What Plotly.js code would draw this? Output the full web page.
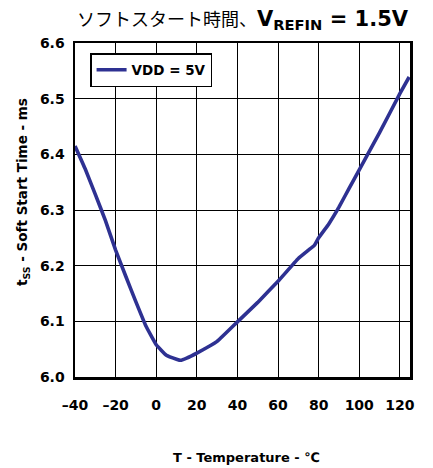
<!DOCTYPE html>
<html>
<head>
<meta charset="utf-8">
<script src="https://cdn.plot.ly/plotly-3.0.1.min.js"></script>
<style>
  html, body { margin: 0; padding: 0; background: #fff; }
  #chart { width: 433px; height: 468px; }
</style>
</head>
<body>
<div id="chart"></div>
<script>
// Soft-start time vs. temperature, VDD = 5 V
const temperature = [-40, -35, -30, -25, -20, -15, -10, -5, 0, 5, 10, 12, 15, 20, 30, 40, 50, 60, 70, 75, 78, 80, 85, 90, 95, 100, 110, 120, 124.6];
const softStartMs = [6.415, 6.374, 6.328, 6.281, 6.228, 6.181, 6.135, 6.091, 6.058, 6.039, 6.032, 6.030, 6.034, 6.043, 6.064, 6.099, 6.134, 6.172, 6.213, 6.228, 6.237, 6.250, 6.275, 6.305, 6.339, 6.372, 6.439, 6.509, 6.539];

const xTickVals = [-40, -20, 0, 20, 40, 60, 80, 100, 120];
const xTickText = ['–40', '–20', '0', '20', '40', '60', '80', '100', '120'];
const yTickVals = [6.0, 6.1, 6.2, 6.3, 6.4, 6.5, 6.6];

const seriesName = 'VDD = 5V';
const titleText = 'ソフトスタート時間、<span style="font-size:21px"><b>V<sub>REFIN</sub> = 1.5V</b></span>';
const xTitle = 'T - Temperature - ℃';
const yTitle = 't<sub>SS</sub> - Soft Start Time - ms';

const boldFont = 'DejaVu Sans, Liberation Sans, Arial, sans-serif';

const trace = {
  x: temperature,
  y: softStartMs,
  type: 'scatter',
  mode: 'lines',
  name: seriesName,
  line: { color: '#2e3192', width: 3.6, shape: 'spline', smoothing: 0.3 },
  showlegend: true
};

const axisCommon = {
  showline: true,
  mirror: true,
  linecolor: '#000',
  linewidth: 2.5,
  showgrid: true,
  gridcolor: '#000',
  gridwidth: 1,
  zeroline: false,
  ticks: '',
  tickfont: { family: boldFont, size: 14, color: '#000', weight: 'bold' }
};

const layout = {
  width: 433,
  height: 468,
  margin: { l: 75, r: 23, t: 43, b: 91 },
  paper_bgcolor: '#fff',
  plot_bgcolor: '#fff',
  title: {
    text: titleText,
    font: { family: 'DejaVu Sans, Noto Sans CJK JP, sans-serif', size: 18, color: '#000' },
    x: 0.5,
    xanchor: 'center',
    xref: 'paper',
    y: 0.958,
    yref: 'container',
    yanchor: 'middle'
  },
  xaxis: Object.assign({}, axisCommon, {
    range: [-40, 125],
    tickmode: 'array',
    tickvals: xTickVals,
    ticktext: xTickText,
    ticklabelstandoff: 14
  }),
  yaxis: Object.assign({}, axisCommon, {
    range: [6.0, 6.6],
    tickmode: 'array',
    tickvals: yTickVals,
    tickformat: '.1f',
    ticklabelstandoff: 5
  }),
  legend: {
    x: 0.045,
    y: 0.97,
    xanchor: 'left',
    yanchor: 'top',
    bgcolor: '#fff',
    bordercolor: '#000',
    borderwidth: 1.5,
    font: { family: boldFont, size: 13.5, color: '#000', weight: 'bold' }
  },
  annotations: [
    {
      text: '<b>' + yTitle + '</b>',
      xref: 'paper', yref: 'paper',
      x: -0.155, y: 0.554,
      xanchor: 'center', yanchor: 'middle',
      textangle: -90,
      showarrow: false,
      font: { family: boldFont, size: 13.5, color: '#000' }
    },
    {
      text: '<b>' + xTitle + '</b>',
      xref: 'paper', yref: 'paper',
      x: 0.513, y: -0.24,
      xanchor: 'center', yanchor: 'middle',
      showarrow: false,
      font: { family: boldFont, size: 13, color: '#000' }
    }
  ]
};

Plotly.newPlot('chart', [trace], layout, { displayModeBar: false, staticPlot: true });
</script>
</body>
</html>
